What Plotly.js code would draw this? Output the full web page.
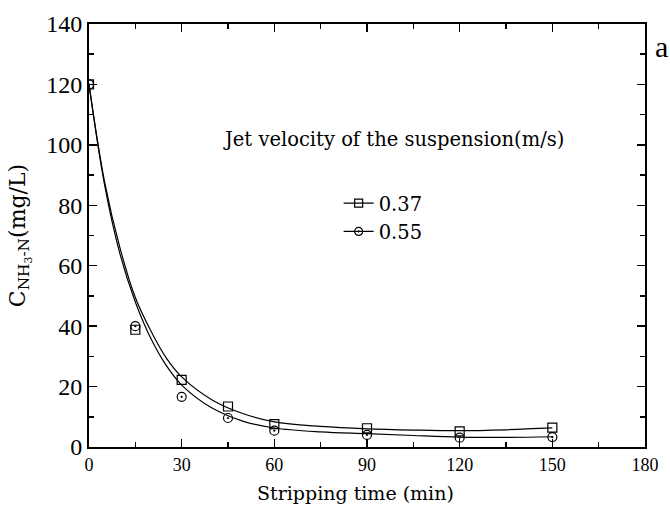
<!DOCTYPE html>
<html>
<head>
<meta charset="utf-8">
<script src="https://cdn.plot.ly/plotly-3.0.1.min.js"></script>
<style>html,body{margin:0;padding:0;background:#fff;}#chart{width:670px;height:508px;}</style>
</head>
<body>
<div id="chart"></div>
<script>
// Measured points
const timeMin = [0, 15, 30, 45, 60, 90, 120, 150];
const conc037 = [120, 38.8, 22.2, 13.4, 7.6, 6.2, 5.2, 6.4];
const conc055 = [120, 40, 16.6, 9.6, 5.4, 4.0, 3.1, 3.3];
// Fitted curves
const fitTime = [0, 5, 10, 15, 20, 25, 30, 40, 50, 60, 75, 90, 105, 120, 135, 150];
const fit037 = [120, 88, 66, 49.5, 38.5, 29.5, 23.2, 15.5, 11, 8.3, 6.8, 6.0, 5.6, 5.4, 5.7, 6.3];
const fit055 = [120, 87, 64, 48, 36, 27, 20.5, 12.8, 8.5, 6.3, 5.0, 4.4, 3.8, 3.3, 3.2, 3.4];
const legendLabels = ['0.37', '0.55'];
const legendTitle = 'Jet velocity of the suspension(m/s)';
const xTitle = 'Stripping time (min)';
const yTitle = 'C<sub>NH<sub>3</sub>-N</sub>(mg/L)';
const panelLabel = 'a';

const times = 'Liberation Serif, Times New Roman, serif';
const book = 'DejaVu Serif, serif';

const traces = [
  {x: fitTime, y: fit037, mode: 'lines', line: {color: '#000', width: 1.2, shape: 'spline', smoothing: 1}, showlegend: false, hoverinfo: 'skip'},
  {x: fitTime, y: fit055, mode: 'lines', line: {color: '#000', width: 1.2, shape: 'spline', smoothing: 1}, showlegend: false, hoverinfo: 'skip'},
  {x: timeMin, y: conc037, mode: 'markers', marker: {symbol: 'square-open', size: 9, color: '#000', line: {width: 1.2}}, showlegend: false},
  {x: timeMin, y: conc055, mode: 'markers', marker: {symbol: 'circle-open-dot', size: 9, color: '#000', line: {width: 1.2}}, showlegend: false},
  {x: [null], y: [null], name: legendLabels[0], legendgroup: 'g1', mode: 'lines+markers', line: {color: '#000', width: 1.2}, marker: {symbol: 'square-open', size: 8, color: '#000', line: {width: 1.2}}},
  {x: [null], y: [null], name: legendLabels[1], legendgroup: 'g2', mode: 'lines+markers', line: {color: '#000', width: 1.2}, marker: {symbol: 'circle-open-dot', size: 8, color: '#000', line: {width: 1.2}}}
];

const axisCommon = {
  showline: true, linecolor: '#000', linewidth: 2, mirror: 'allticks',
  ticks: 'inside', ticklen: 8, tickwidth: 1.5, tickcolor: '#000',
  showgrid: false, zeroline: false
};

const layout = {
  width: 670, height: 508,
  margin: {l: 89, r: 25, t: 24, b: 61},
  paper_bgcolor: '#fff', plot_bgcolor: '#fff',
  font: {family: times, color: '#000'},
  xaxis: Object.assign({}, axisCommon, {
    range: [0, 180], dtick: 30, tick0: 0,
    minor: {dtick: 15, ticks: 'inside', ticklen: 5, tickwidth: 1.5, tickcolor: '#000'},
    tickfont: {size: 18, family: times}
  }),
  yaxis: Object.assign({}, axisCommon, {
    range: [0, 140], dtick: 20, tick0: 0,
    minor: {dtick: 10, ticks: 'inside', ticklen: 5, tickwidth: 1.5, tickcolor: '#000'},
    tickfont: {size: 24, family: times},
    title: {text: yTitle, font: {size: 22, family: book}, standoff: 15}
  }),
  legend: {
    x: 0.449, y: 0.622, xanchor: 'left', yanchor: 'top',
    traceorder: 'grouped', tracegroupgap: 0,
    bgcolor: 'rgba(0,0,0,0)', font: {size: 19.5, family: book}
  },
  annotations: [
    {text: legendTitle, xref: 'paper', yref: 'paper', x: 0.547, y: 0.726, xanchor: 'center', yanchor: 'middle', showarrow: false, font: {size: 19.5, family: book}},
    {text: xTitle, xref: 'paper', yref: 'paper', x: 0.48, y: -0.109, xanchor: 'center', yanchor: 'middle', showarrow: false, font: {size: 19, family: book}},
    {text: panelLabel, xref: 'paper', yref: 'paper', x: 1.029, y: 0.946, xanchor: 'center', yanchor: 'middle', showarrow: false, font: {size: 30, family: times}}
  ]
};

Plotly.newPlot('chart', traces, layout, {displayModeBar: false, staticPlot: true});
</script>
</body>
</html>
